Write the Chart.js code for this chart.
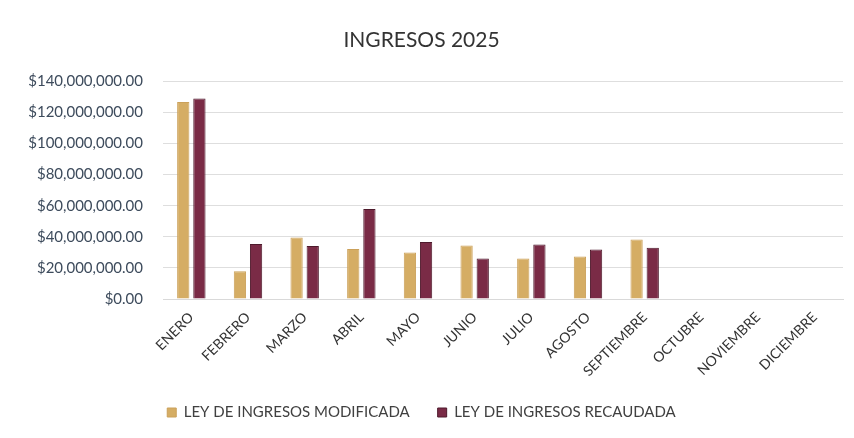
<!DOCTYPE html>
<html>
<head>
<meta charset="utf-8">
<script src="https://cdn.jsdelivr.net/npm/chart.js@4/dist/chart.umd.min.js"></script>
<style>
  html, body { margin: 0; padding: 0; background: #fff; }
  #wrap { width: 854px; height: 438px; position: relative; }
</style>
</head>
<body>
<div id="wrap"><canvas id="ingresosChart" width="854" height="438"></canvas></div>
<script>
var meses = ['ENERO', 'FEBRERO', 'MARZO', 'ABRIL', 'MAYO', 'JUNIO', 'JULIO', 'AGOSTO',
             'SEPTIEMBRE', 'OCTUBRE', 'NOVIEMBRE', 'DICIEMBRE'];
var leyModificada = [126600000, 17800000, 39600000, 32100000, 29900000, 34400000,
                     26000000, 27300000, 38300000, null, null, null];
var leyRecaudada = [128800000, 35300000, 34000000, 57800000, 36600000, 26000000,
                    35000000, 31800000, 32900000, null, null, null];
var yTicks = [0, 20000000, 40000000, 60000000, 80000000, 100000000, 120000000, 140000000];

function moneda(v) {
    return '$' + Number(v).toLocaleString('en-US', { minimumFractionDigits: 2, maximumFractionDigits: 2 });
}

document.addEventListener('DOMContentLoaded', function () {
    var ctx = document.getElementById('ingresosChart').getContext('2d');
    Chart.defaults.font.family = 'Lato, "Open Sans", sans-serif';

    new Chart(ctx, {
        type: 'bar',
        data: {
            labels: meses,
            datasets: [{
                label: 'LEY DE INGRESOS MODIFICADA',
                data: leyModificada,
                backgroundColor: '#d5ad64',
                borderColor: '#cba15a',
                borderWidth: 1
            }, {
                label: 'LEY DE INGRESOS RECAUDADA',
                data: leyRecaudada,
                backgroundColor: '#7a2b46',
                borderColor: '#4e1a2c',
                borderWidth: 1
            }]
        },
        options: {
            responsive: false,
            animation: false,
            layout: { padding: { left: 0, right: 11, top: 0, bottom: 8 } },
            datasets: {
                bar: { categoryPercentage: 0.57, barPercentage: 0.76 }
            },
            plugins: {
                title: {
                    display: true,
                    text: 'INGRESOS 2025',
                    color: '#333333',
                    font: { size: 21, weight: 'normal' },
                    padding: { top: 28, bottom: 28 }
                },
                legend: {
                    position: 'bottom',
                    labels: {
                        color: '#404040',
                        boxWidth: 9,
                        boxHeight: 9,
                        padding: 28,
                        font: { size: 15 }
                    }
                },
                tooltip: { enabled: false }
            },
            scales: {
                x: {
                    grid: { display: false },
                    border: { color: '#d9d9d9' },
                    ticks: {
                        color: '#333333',
                        font: { size: 14 },
                        minRotation: 45,
                        maxRotation: 45,
                        padding: 2
                    },
                    afterFit: function (scale) { scale.height = 78; }
                },
                y: {
                    min: 0,
                    max: 140000000,
                    afterBuildTicks: function (scale) {
                        scale.ticks = yTicks.map(function (v) { return { value: v }; });
                    },
                    afterFit: function (scale) { scale.width = 163; },
                    grid: { color: '#dedede', drawTicks: false },
                    border: { display: false },
                    ticks: {
                        color: '#3d4b5c',
                        font: { size: 15 },
                        padding: 20,
                        callback: function (v) { return moneda(v); }
                    }
                }
            }
        }
    });
});
</script>
</body>
</html>
